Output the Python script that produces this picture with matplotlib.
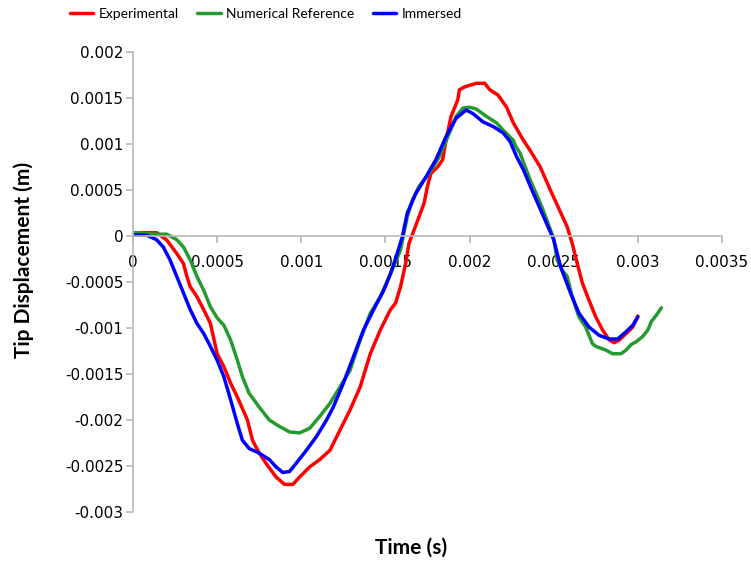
import numpy as np
import matplotlib.pyplot as plt
from matplotlib.ticker import FormatStrFormatter

# Experimental
exp_t = [0, 0.00006, 0.00014, 0.0002, 0.00026, 0.0003, 0.00032, 0.00034, 0.00038, 0.00042,
         0.00046, 0.0005, 0.00054, 0.00058, 0.00062, 0.00068, 0.00071, 0.00075, 0.00079, 0.00085,
         0.0009, 0.00095, 0.00099, 0.00105, 0.00111, 0.00117, 0.00123, 0.00129, 0.00135, 0.00141,
         0.00147, 0.00153, 0.00156, 0.00159, 0.00162, 0.00164, 0.00167, 0.0017, 0.00173, 0.00175,
         0.00177, 0.00181, 0.00184, 0.00186, 0.00189, 0.00191, 0.00193, 0.00194, 0.00197, 0.00204,
         0.00209, 0.00212, 0.00217, 0.00222, 0.00226, 0.00232, 0.00236, 0.00242, 0.00248, 0.00254,
         0.00258, 0.00261, 0.00264, 0.00267, 0.00271, 0.00275, 0.00279, 0.00283, 0.00286, 0.00289,
         0.00293, 0.00297, 0.003]
exp_y = [0.00003, 0.000036, 0.000036, -0.000043, -0.00019, -0.0003, -0.00044, -0.00055, -0.00066, -0.0008,
         -0.00095, -0.00128, -0.00142, -0.0016, -0.00175, -0.002, -0.00222, -0.00236, -0.00247, -0.00262,
         -0.0027, -0.0027, -0.00262, -0.00251, -0.00243, -0.00233, -0.00211, -0.00189, -0.00164, -0.00128,
         -0.00102, -0.0008, -0.00073, -0.00055, -0.0003, -0.00008, 0.000065, 0.00021, 0.00036, 0.00054,
         0.00068, 0.00075, 0.00083, 0.00104, 0.0013, 0.00139, 0.00148, 0.00159, 0.00162, 0.00166,
         0.00166, 0.00159, 0.00153, 0.0014, 0.00123, 0.00104, 0.00093, 0.00075, 0.0005, 0.00026,
         0.0001, -0.00008, -0.0003, -0.00051, -0.0007, -0.00088, -0.00102, -0.00113, -0.00116, -0.00113,
         -0.00106, -0.00099, -0.00087]

# Numerical Reference
num_t = [0, 0.00006, 0.00012, 0.0002, 0.00026, 0.0003, 0.00034, 0.00038, 0.00042, 0.00046,
         0.0005, 0.00054, 0.00058, 0.00062, 0.00065, 0.00069, 0.00075, 0.00081, 0.00087, 0.00093,
         0.00099, 0.00105, 0.00111, 0.00117, 0.00123, 0.00129, 0.00135, 0.00141, 0.00147, 0.00153,
         0.00159, 0.00163, 0.00166, 0.0017, 0.00176, 0.00182, 0.00188, 0.00192, 0.00196, 0.002,
         0.00204, 0.0021, 0.00216, 0.0022, 0.00226, 0.00227, 0.0023, 0.00236, 0.00242, 0.00246,
         0.0025, 0.00252, 0.00255, 0.00258, 0.00261, 0.00265, 0.00269, 0.00273, 0.00275, 0.00281,
         0.00285, 0.0029, 0.00293, 0.00296, 0.00299, 0.00303, 0.00306, 0.00308, 0.00311, 0.00314]
num_y = [0.000036, 0.00003, 0.00002, 0.00002, -0.00004, -0.00012, -0.00026, -0.00044, -0.00059, -0.00077,
         -0.00089, -0.00097, -0.00113, -0.00135, -0.00153, -0.00171, -0.00186, -0.002, -0.00207, -0.00213,
         -0.00214, -0.00209, -0.00196, -0.00182, -0.00164, -0.00146, -0.00113, -0.00084, -0.00066, -0.00041,
         -0.00015, 0.00021, 0.00039, 0.00054, 0.00068, 0.00086, 0.00112, 0.0013, 0.00139, 0.0014,
         0.00138, 0.0013, 0.00123, 0.00115, 0.00104, 0.00099, 0.0009, 0.00061, 0.00036, 0.00017,
         -0.00003, -0.00026, -0.00037, -0.00044, -0.00066, -0.00088, -0.00099, -0.00117, -0.0012, -0.00124,
         -0.00128, -0.00128, -0.00124, -0.00118, -0.00115, -0.00109, -0.00102, -0.00093, -0.00086, -0.00078]

# Immersed
imm_t = [0, 0.00008, 0.00014, 0.00018, 0.00022, 0.00026, 0.0003, 0.00034, 0.00038, 0.00042,
         0.00046, 0.0005, 0.00054, 0.00058, 0.00062, 0.00065, 0.00069, 0.00075, 0.00081, 0.00085,
         0.00089, 0.00093, 0.00097, 0.00103, 0.00109, 0.00115, 0.00119, 0.00125, 0.00131, 0.00137,
         0.00143, 0.00149, 0.00153, 0.00157, 0.0016, 0.00163, 0.00168, 0.00174, 0.0018, 0.00186,
         0.00192, 0.00198, 0.00202, 0.00208, 0.00214, 0.0022, 0.00224, 0.00228, 0.00232, 0.00238,
         0.00244, 0.0025, 0.00254, 0.0026, 0.00265, 0.00271, 0.00277, 0.00283, 0.00288, 0.00293,
         0.00297, 0.003]
imm_y = [0.00001, 0.00001, -0.00004, -0.00012, -0.00026, -0.00044, -0.00062, -0.0008, -0.00095, -0.00106,
         -0.0012, -0.00135, -0.00153, -0.00178, -0.00204, -0.00222, -0.00231, -0.00236, -0.00243, -0.00251,
         -0.00257, -0.00256, -0.00247, -0.00233, -0.00218, -0.002, -0.00186, -0.0016, -0.00131, -0.00102,
         -0.0008, -0.00059, -0.00041, -0.00019, -0.00001, 0.00025, 0.00046, 0.00064, 0.00083, 0.00108,
         0.00128, 0.00137, 0.00133, 0.00124, 0.00119, 0.00112, 0.00103, 0.00086, 0.00072, 0.00046,
         0.00021, -0.00004, -0.00033, -0.00062, -0.00084, -0.00099, -0.00108, -0.00112, -0.00112, -0.00104,
         -0.00097, -0.00088]

fig = plt.figure(figsize=(7.51, 5.62), dpi=100)
ax = fig.add_axes([133/751, 50/562, 589/751, 460/562])

lw = 2.5
ax.plot(exp_t, exp_y, color='#ff0000', lw=lw, label='Experimental', solid_capstyle='round')
ax.plot(num_t, num_y, color='#259b2f', lw=lw, label='Numerical Reference', solid_capstyle='round')
ax.plot(imm_t, imm_y, color='#0000ff', lw=lw, label='Immersed', solid_capstyle='round')

ax.set_xlim(0, 0.0035)
ax.set_ylim(-0.003, 0.002)
ax.set_xticks(np.arange(0, 0.0036, 0.0005))
ax.set_yticks(np.arange(-0.003, 0.00201, 0.0005))
ax.xaxis.set_major_formatter(FormatStrFormatter('%g'))
ax.yaxis.set_major_formatter(FormatStrFormatter('%g'))

gray = '#b8b8b8'
for s in ['top', 'right']:
    ax.spines[s].set_visible(False)
ax.spines['bottom'].set_position(('data', 0))
ax.spines['bottom'].set_color(gray)
ax.spines['left'].set_color(gray)
ax.spines['bottom'].set_linewidth(1.2)
ax.spines['left'].set_linewidth(1.2)
ax.tick_params(axis='both', colors=gray, length=5, width=1.2, labelsize=11, labelcolor='black')
ax.tick_params(axis='x', pad=9)
ax.tick_params(axis='y', pad=2)

ax.set_xlabel('Time (s)', fontsize=15, fontweight='bold', family='Lato')
ax.xaxis.set_label_coords(0.472, -0.055)
ax.set_ylabel('Tip Displacement (m)', fontsize=15, fontweight='bold', family='Lato')
ax.yaxis.set_label_coords(-0.168, 0.548)

fig.legend(loc='center', bbox_to_anchor=(266/751, 1 - 14/562), ncol=3, frameon=False,
           prop={'family': 'Lato', 'size': 10}, handlelength=1.7, handletextpad=0.4,
           columnspacing=1.3)

fig.savefig('out.png', dpi=100)
